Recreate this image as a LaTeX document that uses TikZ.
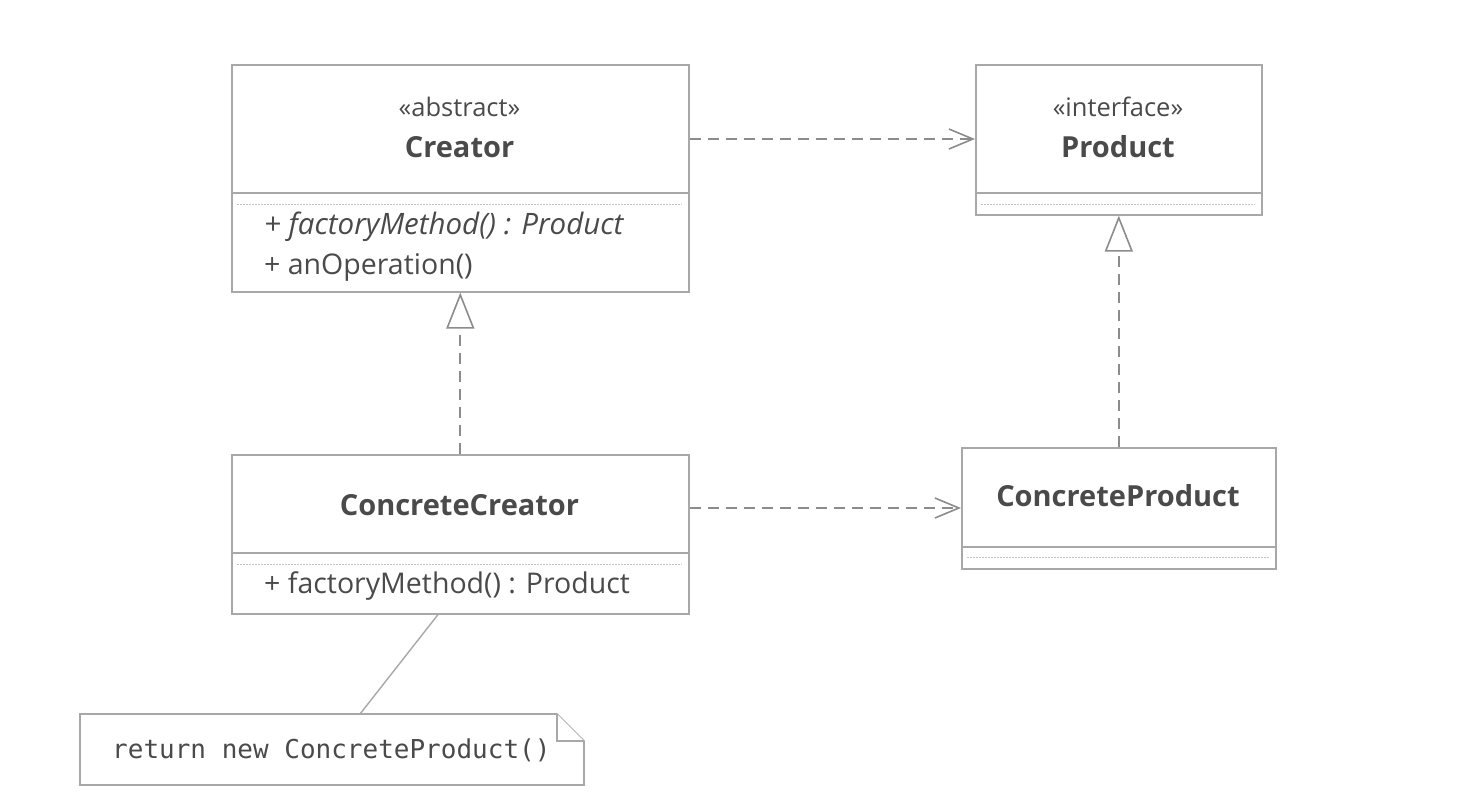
\documentclass[tikz,border=0pt]{standalone}
\usepackage{fontspec}
\setmainfont{Open Sans}
\setmonofont{DejaVu Sans Mono}
\usetikzlibrary{arrows.meta}
\definecolor{boxgray}{HTML}{A8A8A8}
\definecolor{linegray}{HTML}{8C8C8C}
\definecolor{txtgray}{HTML}{4A4A4A}
\definecolor{dotgray}{HTML}{C4C4C4}
\tikzset{
  classbox/.style={draw=boxgray, line width=1.6pt, rectangle, anchor=north west, inner sep=0pt},
  sepline/.style={draw=boxgray, line width=1.4pt},
  dotline/.style={draw=dotgray, line width=1pt, dash pattern=on 1.5pt off 1.5pt},
  txt/.style={text=txtgray, inner sep=0pt, font=\fontsize{28.5}{32}\selectfont},
  itxt/.style={txt, font=\fontsize{29.5}{32}\selectfont\itshape},
  stereo/.style={txt, font=\fontsize{25.5}{29}\selectfont},
  cname/.style={txt, font=\fontsize{29}{33}\selectfont\bfseries},
  dep/.style={draw=linegray, line width=2pt, dash pattern=on 11pt off 7pt, -{Straight Barb[length=24pt, width=20pt, line width=1.6pt]}},
  real/.style={draw=linegray, line width=2pt, dash pattern=on 11pt off 7pt, -{Triangle[open, length=36pt, width=28pt, line width=1.6pt, fill=white]}},
  notebox/.style={draw=boxgray, line width=1.6pt, fill=white},
}
\begin{document}
\begin{tikzpicture}[x=1pt,y=-1pt]
\useasboundingbox (0,0) rectangle (1464,796);
\fill[white] (0,0) rectangle (1464,796);

% Creator
\node[classbox, minimum width=457pt, minimum height=227pt] (creator) at (231,64) {};
\draw[sepline] (231,193) -- (688,193);
\draw[dotline] (237,204) -- (682,204);
\node[stereo] (creatorst) at (459.5,107) {«abstract»};
\node[cname] (creatorname) at (459.5,147) {Creator};
\node[itxt, anchor=west] (creatorop1) at (264,227) {+ factoryMethod() : Product};
\node[txt, anchor=west] (creatorop2) at (264,267) {+ anOperation()};

% Product
\node[classbox, minimum width=286pt, minimum height=150pt] (product) at (975,64) {};
\draw[sepline] (975,193) -- (1261,193);
\draw[dotline] (981,204) -- (1255,204);
\node[stereo] (productst) at (1118,107) {«interface»};
\node[cname] (productname) at (1118,147) {Product};

% ConcreteCreator
\node[classbox, minimum width=457pt, minimum height=159pt] (ccreator) at (231,454) {};
\draw[sepline] (231,553) -- (688,553);
\draw[dotline] (237,564) -- (682,564);
\node[cname] (ccreatorname) at (459.5,505) {ConcreteCreator};
\node[txt, anchor=west] (ccreatorop) at (264,586) {+ factoryMethod() : Product};

% ConcreteProduct
\node[classbox, minimum width=314pt, minimum height=121pt] (cproduct) at (961,447) {};
\draw[sepline] (961,547) -- (1275,547);
\draw[dotline] (967,557) -- (1269,557);
\node[cname] (cproductname) at (1118,496) {ConcreteProduct};

% Note
\coordinate (notetop) at (360,714);
\draw[notebox] (80,714) -- (557,714) -- (584,741) -- (584,785) -- (80,785) -- cycle;
\draw[notebox] (557,714) -- (557,741) -- (584,741);
\node[txt, anchor=west, font=\ttfamily\fontsize{26}{30}\selectfont] (note) at (112,750) {return new ConcreteProduct()};
\draw[draw=boxgray, line width=1.4pt] (notetop) -- (ccreator.south west -| 438,613);

% Connectors
\draw[dep] (creator.east |- 0,139) -- (product.west |- 0,139);
\draw[dep] (ccreator.east |- 0,508) -- (cproduct.west |- 0,508);
\draw[real] (ccreator.north) -- (creator.south);
\draw[real] (cproduct.north) -- (product.south);
\end{tikzpicture}
\end{document}
